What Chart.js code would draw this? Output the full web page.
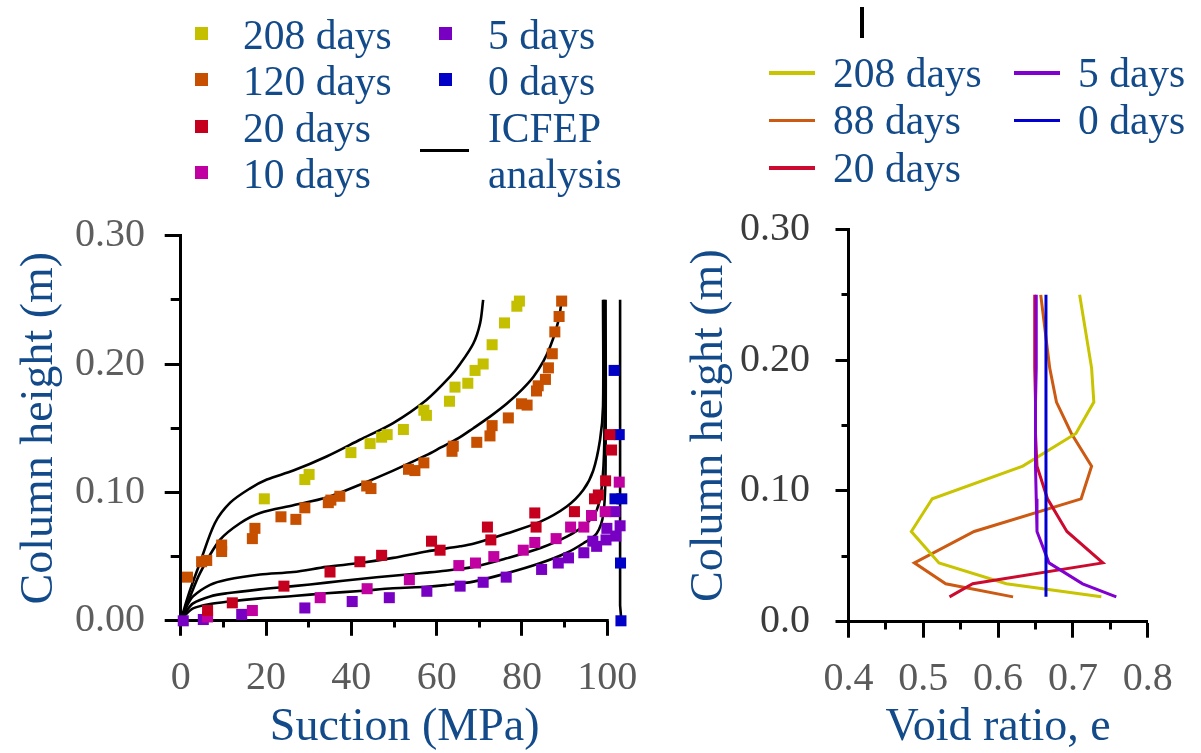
<!DOCTYPE html>
<html>
<head>
<meta charset="utf-8">
<script src="https://cdn.jsdelivr.net/npm/chart.js@4.4.1/dist/chart.umd.min.js"></script>
<style>
html,body{margin:0;padding:0;background:#fff;overflow:hidden;width:1201px;height:753px;}
#wrap{position:relative;width:1201px;height:753px;}
canvas{position:absolute;top:0;}
#cL{left:0;}
#cR{left:660px;}
.lg{position:absolute;font-family:'Liberation Serif','Times New Roman',serif;font-size:41.5px;line-height:46.5px;color:#134a8a;white-space:nowrap;}
.mk{position:absolute;}
#bar{position:absolute;left:860px;top:7px;width:4px;height:31px;background:#000;}
</style>
</head>
<body>
<div id="wrap">
<canvas id="cL" width="660" height="753"></canvas>
<canvas id="cR" width="541" height="753"></canvas>
<div id="bar"></div>
</div>
<script>
// ---------------- DATA ----------------
// Left panel: measured suction (MPa) vs column height (m)
const seriesLabelsL = ['208 days', '120 days', '20 days', '10 days', '5 days', '0 days'];
const s208 = [19.6, 29.1, 30.1, 39.9, 44.4, 47.1, 48.4, 52.2, 57.0, 57.6, 63.0, 64.3, 67.3, 69.0, 70.9, 73.0, 75.9, 78.8, 79.4];
const h208 = [0.095, 0.110, 0.114, 0.131, 0.138, 0.143, 0.145, 0.149, 0.164, 0.160, 0.171, 0.182, 0.185, 0.195, 0.200, 0.215, 0.232, 0.245, 0.249];
const s120 = [1.6, 4.9, 6.1, 9.6, 9.6, 16.8, 17.4, 23.5, 27.0, 29.1, 34.6, 35.2, 37.3, 43.6, 44.6, 53.4, 54.9, 57.0, 63.6, 63.9, 69.4, 72.5, 73.0, 76.8, 79.9, 81.2, 83.4, 83.8, 85.5, 86.2, 87.1, 87.7, 88.7, 89.3];
const h120 = [0.034, 0.046, 0.047, 0.054, 0.059, 0.064, 0.072, 0.081, 0.079, 0.088, 0.092, 0.094, 0.097, 0.105, 0.103, 0.118, 0.117, 0.123, 0.132, 0.136, 0.139, 0.144, 0.152, 0.158, 0.169, 0.168, 0.179, 0.183, 0.188, 0.197, 0.208, 0.225, 0.237, 0.249];
const s20 = [6.3, 12.1, 24.2, 35.0, 42.0, 47.1, 58.8, 60.8, 71.9, 72.7, 83.0, 83.3, 92.3, 97.0, 97.9, 99.6, 101.0, 100.6];
const h20 = [0.008, 0.014, 0.027, 0.038, 0.046, 0.051, 0.062, 0.055, 0.073, 0.063, 0.084, 0.073, 0.085, 0.095, 0.098, 0.109, 0.133, 0.145];
const s10 = [6.3, 16.8, 32.7, 43.7, 53.6, 65.2, 69.1, 73.4, 80.3, 83.0, 88.0, 91.4, 94.5, 96.3, 99.5, 102.8];
const h10 = [0.003, 0.008, 0.018, 0.025, 0.032, 0.043, 0.045, 0.050, 0.055, 0.061, 0.064, 0.073, 0.073, 0.082, 0.085, 0.108];
const s5 = [0.6, 5.3, 14.3, 29.1, 40.2, 48.9, 57.7, 65.5, 70.9, 76.3, 84.6, 88.5, 90.9, 94.5, 96.6, 97.5, 99.7, 99.9, 101.8, 102.0, 103.0];
const h5 = [0.000, 0.001, 0.005, 0.010, 0.015, 0.018, 0.023, 0.027, 0.030, 0.034, 0.040, 0.045, 0.049, 0.053, 0.062, 0.058, 0.063, 0.072, 0.085, 0.066, 0.074];
const s0 = [101.6, 102.8, 101.8, 103.4, 103.1, 103.2];
const h0 = [0.195, 0.145, 0.095, 0.095, 0.045, 0.000];

// ICFEP analysis curves
const icfepLabel = 'ICFEP analysis';
const c208s = [0, 1.8, 4.5, 8.0, 11.6, 16.2, 20.2, 26.4, 34.2, 42.0, 49.8, 57.6, 63.1, 65.5, 68.6, 70.2, 70.9];
const c208h = [0, 0.020, 0.045, 0.076, 0.092, 0.103, 0.110, 0.117, 0.128, 0.141, 0.154, 0.172, 0.190, 0.200, 0.216, 0.232, 0.250];
const c120s = [0, 2.0, 4.5, 9.2, 13.9, 18.6, 26.4, 34.2, 42.0, 49.8, 57.6, 61.0, 65.0, 68.6, 72.5, 76.4, 80.0, 82.7, 85.0, 86.6, 88.0, 88.8, 89.3];
const c120h = [0, 0.017, 0.037, 0.063, 0.076, 0.084, 0.090, 0.096, 0.106, 0.117, 0.129, 0.135, 0.142, 0.150, 0.159, 0.169, 0.180, 0.190, 0.202, 0.2135, 0.227, 0.238, 0.250];
const c20s = [0, 1.2, 2.9, 6.9, 10.8, 18.6, 26.4, 34.2, 42.0, 49.8, 57.6, 65.5, 68.6, 76.4, 84.2, 90.5, 94.4, 96.7, 98.3, 99.0, 99.0];
const c20h = [0, 0.010, 0.019, 0.028, 0.032, 0.036, 0.038, 0.042, 0.045, 0.049, 0.054, 0.058, 0.060, 0.068, 0.077, 0.089, 0.102, 0.117, 0.141, 0.167, 0.250];
const c10s = [0, 1.2, 2.9, 6.9, 10.8, 18.6, 26.4, 34.2, 42.0, 49.8, 57.6, 62.0, 68.6, 76.4, 84.2, 90.5, 95.2, 97.5, 98.7, 99.3, 99.3];
const c10h = [0, 0.007, 0.0136, 0.019, 0.0214, 0.0245, 0.027, 0.0297, 0.0326, 0.0351, 0.0375, 0.039, 0.042, 0.0487, 0.0565, 0.0655, 0.076, 0.086, 0.104, 0.140, 0.250];
const c5s = [0, 1.2, 2.9, 6.9, 10.8, 18.6, 26.4, 34.2, 42.0, 49.8, 57.6, 62.0, 68.6, 76.4, 84.2, 90.5, 94.4, 97.5, 99.1, 99.6, 99.6];
const c5h = [0, 0.005, 0.0097, 0.0131, 0.0149, 0.0175, 0.0193, 0.0214, 0.0232, 0.0253, 0.0265, 0.0278, 0.0305, 0.037, 0.0448, 0.053, 0.0604, 0.068, 0.0837, 0.120, 0.250];
const c0s = [103.0, 103.0, 103.3];
const c0h = [0.250, 0.012, 0.000];

// Right panel: void ratio vs column height
const seriesLabelsR = ['208 days', '88 days', '20 days', '5 days', '0 days'];
const hR = [0.250, 0.194, 0.168, 0.144, 0.119, 0.094, 0.069, 0.045, 0.029, 0.019];
const e208 = [0.709, 0.725, 0.728, 0.704, 0.633, 0.512, 0.484, 0.521, 0.611, 0.738];
const e88 = [0.657, 0.669, 0.678, 0.698, 0.725, 0.711, 0.568, 0.488, 0.530, 0.620];
const e20 = [0.649, 0.649, 0.650, 0.650, 0.652, 0.666, 0.692, 0.740, 0.566, 0.535];
const e5 = [0.651, 0.651, 0.650, 0.650, 0.650, 0.651, 0.652, 0.668, 0.713, 0.758];
const e0 = [0.664, 0.664, 0.664, 0.664, 0.664, 0.664, 0.664, 0.664, 0.664, 0.664];

// Axis ticks
const tickSuction = [0, 10, 20, 30, 40, 50, 60, 70, 80, 90, 100];
const tickSuctionLabels = ['0', '', '20', '', '40', '', '60', '', '80', '', '100'];
const tickHeight = [0, 0.05, 0.10, 0.15, 0.20, 0.25, 0.30];
const tickHeightLabelsL = ['0.00', '', '0.10', '', '0.20', '', '0.30'];
const tickHeightLabelsR = ['0.0', '', '0.10', '', '0.20', '', '0.30'];
const tickVoid = [0.40, 0.45, 0.50, 0.55, 0.60, 0.65, 0.70, 0.75, 0.80];
const tickVoidLabels = ['0.4', '', '0.5', '', '0.6', '', '0.7', '', '0.8'];
const suctionViewMax = 105;

// ---------------- STYLE ----------------
const C = {
  yellow: '#c4c000', orange: '#c65000', red: '#c5001e', magenta: '#c000a0', purple: '#7800c2', blue: '#0000c6',
  lyellow: '#c8c400', lorange: '#cc5a12', lred: '#cc0a30', lpurple: '#8000d0', lblue: '#0000d2',
  text: '#134a8a', tick: '#5a5a5a'
};
const FAM = "'Liberation Serif','Times New Roman',serif";
Chart.defaults.font.family = FAM;

const pts = (xs, ys) => xs.map((x, i) => ({ x: x, y: ys[i] }));

function measured(label, xs, ys, color) {
  return { label, data: pts(xs, ys), showLine: false, pointStyle: 'rect', pointRadius: 7.8, pointHoverRadius: 7.8,
           backgroundColor: color, borderColor: color, borderWidth: 0, clip: false, order: 1 };
}
function curve(xs, ys, t) {
  return { label: icfepLabel, data: pts(xs, ys), showLine: true, pointRadius: 0, borderColor: '#000',
           backgroundColor: '#000', borderWidth: 2.6, tension: t, clip: false, order: 10 };
}
function vline(label, xs, ys, color) {
  return { label, data: pts(xs, ys), showLine: true, pointRadius: 0, borderColor: color, backgroundColor: color,
           borderWidth: 3, tension: 0, clip: false, order: 1 };
}

function labelFor(values, labels, v) {
  let best = 0, bd = Infinity;
  values.forEach((t, i) => { const d = Math.abs(t - v); if (d < bd) { bd = d; best = i; } });
  return labels[best];
}

function axisX(values, labels, viewMax, title, tl, minorLen, pad, h, showBorder) {
  return {
    type: 'linear', min: values[0], max: viewMax,
    afterBuildTicks: s => { s.ticks = values.map(v => ({ value: v })); },
    ticks: { autoSkip: false, maxRotation: 0, minRotation: 0, padding: pad, color: C.tick,
             font: { family: FAM, size: 40 }, callback: v => labelFor(values, labels, v) },
    grid: { drawOnChartArea: false, drawTicks: true, tickLength: tl, tickWidth: 3, tickColor: '#000',
            tickBorderDash: ctx => (ctx.tick && labelFor(values, labels, ctx.tick.value) !== '') ? [] : [minorLen - 1.5, 200] },
    border: { display: showBorder, color: '#000', width: 3 },
    title: { display: true, text: title, color: C.text, font: { family: FAM, size: 46, lineHeight: 1 }, padding: { top: 0, bottom: 0 } },
    afterFit: s => { s.height = h; }
  };
}
function axisY(values, labels, title, tl, minorLen, pad, w, tpad, color) {
  return {
    type: 'linear', min: values[0], max: values[values.length - 1],
    afterBuildTicks: s => { s.ticks = values.map(v => ({ value: v })); },
    ticks: { autoSkip: false, padding: pad, color: color, font: { family: FAM, size: 40 }, callback: v => labelFor(values, labels, v) },
    grid: { drawOnChartArea: false, drawTicks: true, tickLength: tl, tickWidth: 3, tickColor: '#000',
            tickBorderDash: ctx => (ctx.tick && labelFor(values, labels, ctx.tick.value) !== '') ? [] : [0, tl - minorLen, minorLen, 200] },
    border: { display: true, color: '#000', width: 3 },
    title: { display: true, text: title, color: C.text, font: { family: FAM, size: 46, lineHeight: 1 }, padding: { top: tpad, bottom: 0 } },
    afterFit: s => { s.width = w; }
  };
}

// x-axis line that stops at the last tick (data beyond it is still shown)
function strokeAxis(chart) {
  const xs = chart.scales.x, a = chart.chartArea, c = chart.ctx;
  const y = Math.round(a.bottom - 1.5) + 1.5;
  c.save();
  c.setLineDash([]);
  c.strokeStyle = '#000';
  c.lineWidth = 3;
  c.beginPath();
  c.moveTo(xs.getPixelForValue(tickSuction[0]) - 1.5, y);
  c.lineTo(xs.getPixelForValue(tickSuction[tickSuction.length - 1]) + 1.5, y);
  c.stroke();
  c.restore();
}
const axisLinePlugin = { id: 'axisLine', beforeDatasetsDraw(chart) { strokeAxis(chart); } };

// ---------------- LEFT CHART ----------------
const leftChart = new Chart(document.getElementById('cL'), {
  type: 'scatter',
  data: { datasets: [
    curve(c208s, c208h, 0.3), curve(c120s, c120h, 0.3), curve(c20s, c20h, 0.3),
    curve(c10s, c10h, 0.3), curve(c5s, c5h, 0.3), curve(c0s, c0h, 0),
    measured(seriesLabelsL[0], s208, h208, C.yellow),
    measured(seriesLabelsL[1], s120, h120, C.orange),
    measured(seriesLabelsL[2], s20, h20, C.red),
    measured(seriesLabelsL[3], s10, h10, C.magenta),
    measured(seriesLabelsL[4], s5, h5, C.purple),
    measured(seriesLabelsL[5], s0, h0, C.blue)
  ]},
  options: {
    responsive: false, animation: false, events: [],
    layout: { padding: { left: 0, top: 235.6, right: 31.37, bottom: 2.5 } },
    plugins: { legend: { display: false }, tooltip: { enabled: false } },
    scales: {
      x: axisX(tickSuction, tickSuctionLabels, suctionViewMax, 'Suction (MPa)', 15, 8, 19, 129.7, false),
      y: axisY(tickHeight, tickHeightLabelsL, 'Column height (m)', 16, 10, 19.7, 180.7, 17, '#5e5e5e')
    }
  },
  plugins: [axisLinePlugin]
});

// ---------------- RIGHT CHART ----------------
const rightChart = new Chart(document.getElementById('cR'), {
  type: 'scatter',
  data: { datasets: [
    vline(seriesLabelsR[1], e88, hR, C.lorange),
    vline(seriesLabelsR[0], e208, hR, C.lyellow),
    vline(seriesLabelsR[2], e20, hR, C.lred),
    vline(seriesLabelsR[3], e5, hR, C.lpurple),
    vline(seriesLabelsR[4], e0, hR, C.lblue)
  ].reverse()},
  options: {
    responsive: false, animation: false, events: [],
    layout: { padding: { left: 0, top: 229.5, right: 53.3, bottom: 2 } },
    plugins: { legend: { display: false }, tooltip: { enabled: false } },
    scales: {
      x: axisX(tickVoid, tickVoidLabels, tickVoid[tickVoid.length - 1], 'Void ratio, e', 16, 8, 18, 129.3, true),
      y: axisY(tickHeight, tickHeightLabelsR, 'Column height (m)', 13, 7, 25.5, 188.5, 27, '#3c3c3c')
    }
  }
});

// ---------------- LEGENDS (HTML text) ----------------
const wrap = document.getElementById('wrap');
function addText(txt, left, centerY) {
  const d = document.createElement('div');
  d.className = 'lg';
  d.innerHTML = txt;
  d.style.left = left + 'px';
  d.style.top = (centerY - 23.25) + 'px';
  wrap.appendChild(d);
}
function addMarker(left, top, w, h, color) {
  const m = document.createElement('div');
  m.className = 'mk';
  m.style.left = left + 'px'; m.style.top = top + 'px';
  m.style.width = w + 'px'; m.style.height = h + 'px';
  m.style.background = color;
  wrap.appendChild(m);
}
// left legend layout
const LL = { col: [{ mk: 201, tx: 243 }, { mk: 445, tx: 488 }], rows: [35, 81.5, 128, 174.5] };
const leftItems = [
  [0, 0, C.yellow], [0, 1, C.orange], [0, 2, C.red], [0, 3, C.magenta], [1, 0, C.purple], [1, 1, C.blue]
];
leftItems.forEach((it, i) => {
  const col = LL.col[it[0]], cy = LL.rows[it[1]];
  addMarker(col.mk - 6.5, cy - 2 - 6.5, 13, 13, it[2]);
  addText(seriesLabelsL[i], col.tx, cy);
});
addMarker(420, 149, 49, 3, '#000');
addText(icfepLabel.replace(' ', '<br>'), LL.col[1].tx, LL.rows[2]);

// right legend layout
const RL = { col: [{ l: 769, tx: 833 }, { l: 1014, tx: 1078 }], rows: [73, 120.5, 168] };
const rightItems = [[0, 0, C.lyellow], [0, 1, C.lorange], [0, 2, C.lred], [1, 0, C.lpurple], [1, 1, C.lblue]];
rightItems.forEach((it, i) => {
  const col = RL.col[it[0]], cy = RL.rows[it[1]];
  addMarker(col.l, cy - 1.75, 46, 3.5, it[2]);
  addText(seriesLabelsR[i], col.tx, cy);
});
</script>
</body>
</html>
